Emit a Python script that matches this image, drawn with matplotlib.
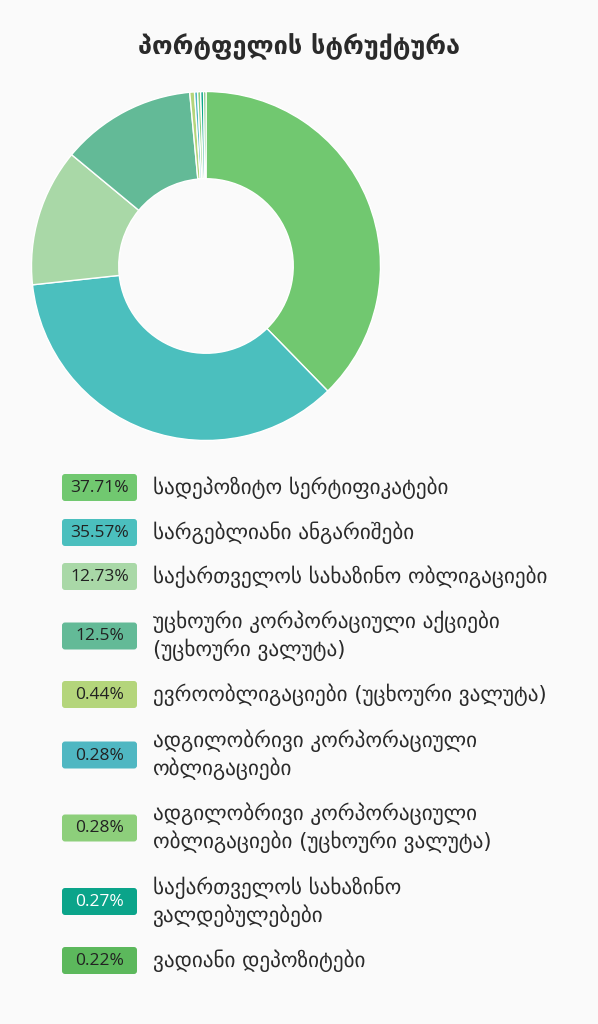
import matplotlib.pyplot as plt
from matplotlib.patches import FancyBboxPatch

# Datos del gráfico
titulo = "პორტფელის სტრუქტურა"
etiquetas = [
    "სადეპოზიტო სერტიფიკატები",
    "სარგებლიანი ანგარიშები",
    "საქართველოს სახაზინო ობლიგაციები",
    "უცხოური კორპორაციული აქციები\n(უცხოური ვალუტა)",
    "ევროობლიგაციები (უცხოური ვალუტა)",
    "ადგილობრივი კორპორაციული\nობლიგაციები",
    "ადგილობრივი კორპორაციული\nობლიგაციები (უცხოური ვალუტა)",
    "საქართველოს სახაზინო\nვალდებულებები",
    "ვადიანი დეპოზიტები",
]
valores = [37.71, 35.57, 12.73, 12.5, 0.44, 0.28, 0.28, 0.27, 0.22]
colores = ["#71c870", "#4bbfbe", "#a9d8a7", "#63ba97", "#b4d57b",
           "#4fb7c2", "#8dcf7b", "#0ba48a", "#5cb85c"]
texto_caja = ["#222222"] * 7 + ["#ffffff", "#222222"]

W, H = 598, 1024
fig = plt.figure(figsize=(W / 100, H / 100), dpi=100)
fig.patch.set_facecolor("#fafafa")

# Donut
cx, cy, r = 206, 266, 174.5
ax = fig.add_axes([(cx - r) / W, 1 - (cy + r) / H, 2 * r / W, 2 * r / H])
ax.pie(valores, colors=colores, startangle=90, counterclock=False,
       wedgeprops=dict(width=0.5, edgecolor="white", linewidth=1))
ax.set_xlim(-1, 1)
ax.set_ylim(-1, 1)
ax.set_aspect("equal")
ax.axis("off")

# Capa en píxeles para título y leyenda
capa = fig.add_axes([0, 0, 1, 1])
capa.set_xlim(0, W)
capa.set_ylim(H, 0)
capa.axis("off")
capa.patch.set_alpha(0)

capa.text(W / 2, 47, titulo, ha="center", va="center", fontsize=18.2,
          fontweight="bold", color="#2a2a2a", family="DejaVu Sans")

filas_y = [487.5, 532.5, 576.5, 636, 694.5, 755, 828, 901.5, 960.5]
for y, etiqueta, valor, color, tc in zip(filas_y, etiquetas, valores, colores, texto_caja):
    caja = FancyBboxPatch((62, y - 13.5), 75, 27,
                          boxstyle="round,pad=0,rounding_size=3",
                          facecolor=color, edgecolor="none")
    capa.add_patch(caja)
    capa.text(99.5, y + 0.5, f"{valor:g}%", ha="center", va="center",
              fontsize=12.5, color=tc, family="Open Sans")
    capa.text(153, y, etiqueta, ha="left", va="center", fontsize=15.2,
              color="#2a2a2a", family="DejaVu Sans", linespacing=1.3)

fig.savefig("out.png", dpi=100, facecolor=fig.get_facecolor())
